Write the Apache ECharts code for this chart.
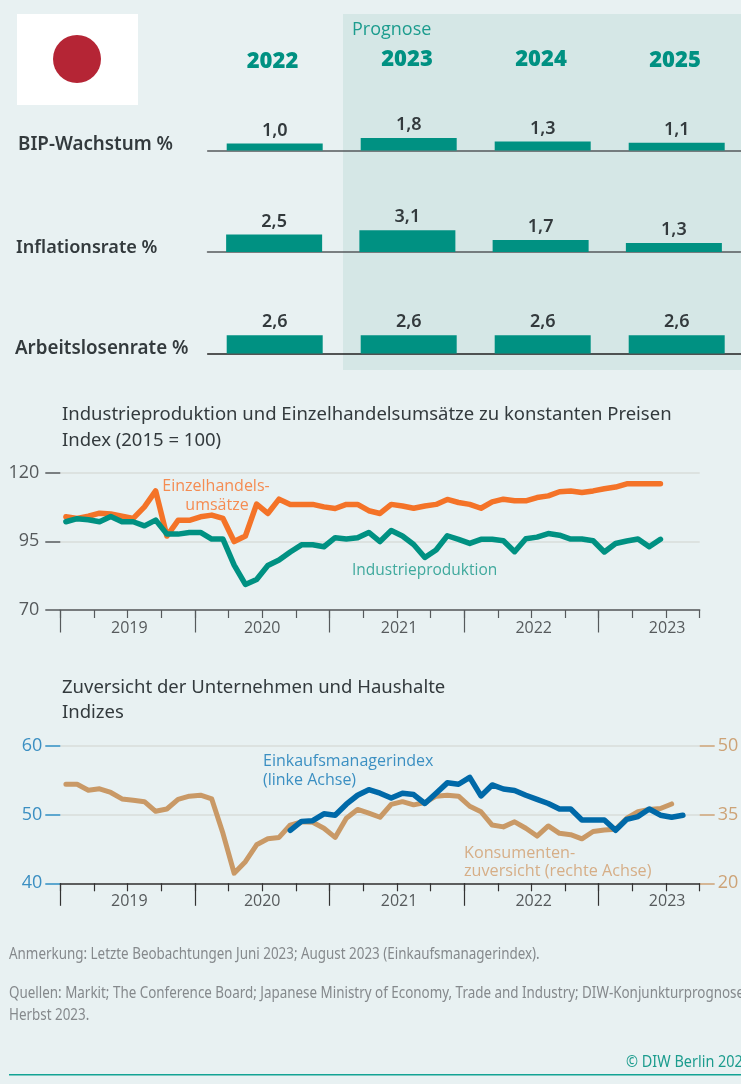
<!DOCTYPE html>
<html><head><meta charset="utf-8">
<style>html,body{margin:0;padding:0;background:#e8f1f2;overflow:hidden}#c{width:760px;height:1084px}</style>
<script src="https://cdn.jsdelivr.net/npm/echarts@6/dist/echarts.min.js"></script>
</head><body><div id="c"></div>
<script>
const years = ['2022','2023','2024','2025'];
const bipWachstum = [1.0,1.8,1.3,1.1];
const inflationsrate = [2.5,3.1,1.7,1.3];
const arbeitslosenrate = [2.6,2.6,2.6,2.6];
const einzelhandel = [103.9,103.3,104.1,105.2,104.9,104.1,103.3,107.5,113.3,96.9,102.6,102.6,103.9,104.5,103.3,94.9,96.9,108.5,105.1,110.3,108.4,108.4,108.4,107.5,106.9,108.4,108.4,106.1,105.1,108.4,107.8,107.0,107.8,108.4,110.2,109.1,108.4,107.0,109.3,110.3,109.7,109.7,110.9,111.5,113.0,113.3,112.7,113.3,114.1,114.7,115.9,115.9,115.9,115.9];
const industrie = [102.1,103.2,102.8,102.1,104,102.1,102.1,100.6,102.7,97.6,97.6,98.2,98.2,95.8,95.8,86.3,79.3,81.1,86.2,88.2,91.1,93.7,93.7,93.0,96.3,95.8,96.3,98.2,94.9,98.9,96.9,93.8,89.1,91.8,97.0,95.7,94.2,95.7,95.7,95.2,91.2,95.9,96.5,97.8,97.2,95.8,95.8,95.2,91.1,94.2,95.1,95.8,93.0,95.7];
const konsumenten = [41.6,41.6,40.3,40.6,39.8,38.4,38.1,37.8,35.7,36.2,38.3,39.0,39.2,38.4,30.9,22.2,24.7,28.4,29.7,30.0,32.7,33.4,33.3,32.0,30.0,34.2,36.1,35.3,34.4,37.2,37.8,37.1,37.6,39.0,39.2,39.0,36.8,35.6,32.7,32.3,33.4,32.0,30.3,32.5,30.9,30.6,29.7,31.3,31.6,31.8,34.2,35.6,36.1,36.3,37.3];
const pmiStartMonth = 20;
const pmi = [47.7,49.0,49.1,50.1,49.9,51.5,52.8,53.6,53.1,52.4,53.1,52.9,51.6,53.1,54.6,54.4,55.4,52.7,54.3,53.7,53.5,52.8,52.2,51.6,50.8,50.8,49.2,49.2,49.2,47.7,49.3,49.7,50.8,49.9,49.6,49.9];
const timeYears = ['2019','2020','2021','2022','2023'];
const monthsOnAxis = 57;
const yearTicks = [0,12,24,36,48];

const BG='#e8f1f2', TEAL='#009182', DARK='#333a3d', AXIS='#565a5c', GRID='#d9dcda';
const SANS='"Open Sans","Noto Sans",sans-serif';
const TXT='"Noto Sans","Open Sans",sans-serif';
const pts = (arr, start=0) => arr.map((v,i)=>[start+i+0.5,v]);
const yearLabel = v => timeYears[Math.round((v-6)/12)];

const barRows = [[bipWachstum,122.5,207.7,536],[inflationsrate,224,207.5,533],[arbeitslosenrate,325.5,207.7,536]];
const grid=[], xAxis=[], yAxis=[], series=[];
barRows.forEach(([vals,top,left,width],i)=>{
  grid.push({left,width,top,height:28});
  xAxis.push({gridIndex:i,type:'category',data:years,axisTick:{show:false},axisLabel:{show:false},
    axisLine:{lineStyle:{color:i===2?'#222':AXIS,width:1.5}}});
  yAxis.push({gridIndex:i,type:'value',min:0,max:4,show:false,splitLine:{show:false}});
  series.push({type:'bar',xAxisIndex:i,yAxisIndex:i,data:vals,barWidth:96,itemStyle:{color:TEAL},z:3,
    label:{show:true,position:'top',distance:4,fontFamily:TXT,fontSize:18,fontWeight:600,color:DARK,
      formatter:p=>p.value.toFixed(1).replace('.',',')}});
});
function timeGrid(top,bottomY,lineColor){
  const g=grid.length;
  grid.push({left:60.3,width:639.4,top,height:bottomY-top});
  xAxis.push({gridIndex:g,type:'value',position:'bottom',min:0,max:monthsOnAxis,interval:3,splitLine:{show:false},
    axisLine:{show:true,onZero:false,lineStyle:{color:lineColor,width:1.5}},
    axisTick:{show:true,length:8,lineStyle:{color:lineColor,width:1.2}},
    axisLabel:{show:true,margin:10,fontFamily:SANS,fontSize:16,color:AXIS,
      customValues:[6.15,18,30.2,42.2,54.1],
      formatter:v=>yearLabel(v)}});
  xAxis.push({gridIndex:g,type:'value',position:'bottom',min:0,max:monthsOnAxis,splitLine:{show:false},
    axisLine:{show:false,onZero:false},axisLabel:{show:false},
    axisTick:{show:true,length:22.5,customValues:yearTicks,lineStyle:{color:lineColor,width:1.2}}});
  return g;
}
// Chart 1
const g1=timeGrid(472.5,610,AXIS);
const y1=yAxis.length;
yAxis.push({gridIndex:g1,type:'value',min:70,max:120,interval:25,
  axisLine:{show:false,onZero:false},axisTick:{show:true,length:15,lineStyle:{color:AXIS,width:1.5}},
  splitLine:{show:true,lineStyle:{color:GRID,width:1.5}},
  axisLabel:{margin:21,fontFamily:SANS,fontSize:18,color:AXIS}});
series.push({type:'line',xAxisIndex:xAxis.length-2,yAxisIndex:y1,data:pts(einzelhandel),symbol:'none',z:3,
  lineStyle:{color:'#f47328',width:5.5,cap:'round',join:'round'}});
series.push({type:'line',xAxisIndex:xAxis.length-2,yAxisIndex:y1,data:pts(industrie),symbol:'none',z:4,
  lineStyle:{color:TEAL,width:5.5,cap:'round',join:'round'}});
// Chart 2
const g2=timeGrid(745.7,883.3,'#333');
const yl=yAxis.length;
yAxis.push({gridIndex:g2,type:'value',position:'left',min:40,max:60,interval:10,
  axisLine:{show:false,onZero:false},axisTick:{show:true,length:15,lineStyle:{color:'#2f8fc4',width:1.5}},
  splitLine:{show:true,lineStyle:{color:GRID,width:1.5}},
  axisLabel:{margin:18,fontFamily:SANS,fontSize:18,color:'#3b8fc2'}});
yAxis.push({gridIndex:g2,type:'value',position:'right',min:20,max:50,interval:15,
  axisLine:{show:false,onZero:false},axisTick:{show:true,length:15,lineStyle:{color:'#cda377',width:1.5}},
  splitLine:{show:false},
  axisLabel:{margin:18,fontFamily:SANS,fontSize:18,color:'#cda377'}});
series.push({type:'line',xAxisIndex:xAxis.length-2,yAxisIndex:yl+1,data:pts(konsumenten),symbol:'none',z:3,
  lineStyle:{color:'#c99966',width:5,cap:'round',join:'round'}});
series.push({type:'line',xAxisIndex:xAxis.length-2,yAxisIndex:yl,data:pts(pmi,pmiStartMonth),symbol:'none',z:4,
  lineStyle:{color:'#0069a8',width:5.5,cap:'round',join:'round'}});

const t=(text,x,y,o={},scaleX=1)=>({type:'text',x,y:y+1,scaleX,z:10,silent:true,style:Object.assign({text,fontFamily:TXT,fontSize:18.5,fill:DARK,verticalAlign:'middle',align:'left'},o)});
const head={fontFamily:'"Noto Sans"',fontWeight:900,fontSize:22,fill:TEAL,align:'center'};
const note={fontFamily:TXT,fontSize:16,fill:'#85898c'};
const graphic=[
  {type:'rect',z:-10,silent:true,shape:{x:343,y:14,width:398,height:356},style:{fill:'#d5e7e6'}},
  {type:'rect',z:-9,silent:true,shape:{x:17,y:14,width:121,height:91},style:{fill:'#ffffff'}},
  {type:'circle',z:-8,silent:true,shape:{cx:77,cy:59,r:24},style:{fill:'#b52535'}},
  t('Prognose',352,29,{fontSize:18,fill:'#1c9c8e',fontFamily:SANS}),
  t(years[0],272.5,60.5,head),
  t(years[1],407,58.5,head),
  t(years[2],541,58.5,head),
  t(years[3],675,59.5,head),
  t('BIP-Wachstum %',18,144,{fontWeight:600,fontSize:18.8}),
  t('Inflationsrate %',16,247,{fontWeight:600,fontSize:18.1}),
  t('Arbeitslosenrate %',15,348,{fontWeight:600,fontSize:18.8}),
  t('Industrieproduktion und Einzelhandelsumsätze zu konstanten Preisen',62,414),
  t('Index (2015 = 100)',62,440),
  t('Zuversicht der Unternehmen und Haushalte',62,687),
  t('Indizes',62,712),
  t('Einzelhandels-',216,485,{fontSize:16,fill:'#f58c52',align:'center',fontFamily:SANS}),
  t('umsätze',217,504,{fontSize:16,fill:'#f58c52',align:'center',fontFamily:SANS}),
  t('Industrieproduktion',352,570,{fontSize:15.5,fill:'#3fa99d',fontFamily:SANS}),
  t('Einkaufsmanagerindex',263,760,{fontSize:16,fill:'#3b8fc2',fontFamily:SANS}),
  t('(linke Achse)',263,779,{fontSize:16,fill:'#3b8fc2',fontFamily:SANS}),
  t('Konsumenten-',464,852,{fontSize:16.2,fill:'#d6ae87',fontFamily:SANS}),
  t('zuversicht (rechte Achse)',464,870,{fontSize:16.2,fill:'#d6ae87',fontFamily:SANS}),
  t('Anmerkung: Letzte Beobachtungen Juni 2023; August 2023 (Einkaufsmanagerindex).',9,953,note,0.838),
  t('Quellen: Markit; The Conference Board; Japanese Ministry of Economy, Trade and Industry; DIW-Konjunkturprognose',9,992,note,0.838),
  t('Herbst 2023.',9,1014,note,0.838),
  t('© DIW Berlin 2023',626,1061,{fontFamily:TXT,fontSize:17,fill:'#1c9c8e'},0.85),
  {type:'rect',z:-5,silent:true,shape:{x:9,y:1074,width:751,height:1.5},style:{fill:'#13a394'}}
];
const chart=echarts.init(document.getElementById('c'),null,{renderer:'canvas'});
chart.setOption({animation:false,backgroundColor:BG,grid,xAxis,yAxis,series,graphic});
</script></body></html>
